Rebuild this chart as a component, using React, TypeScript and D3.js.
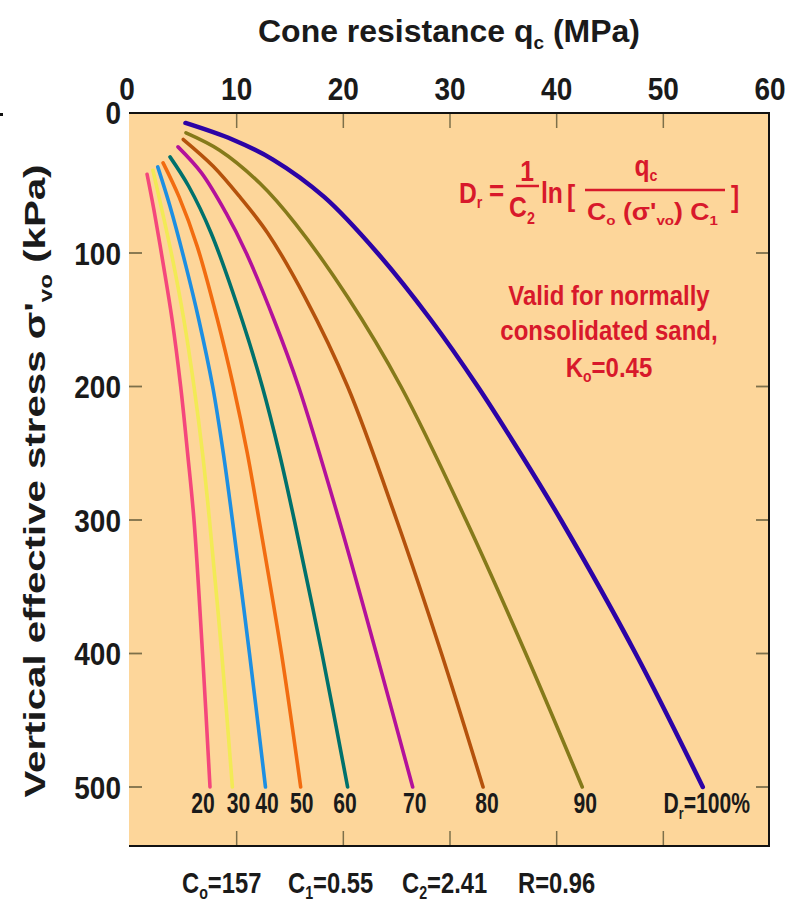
import React from "react";
import * as d3 from "d3";

// relative density of each curve (%)
const densities = [20, 30, 40, 50, 60, 70, 80, 90, 100];

// [sigma'vo (kPa), qc (MPa)], one list per curve
const dr20 = [[41, 1.6], [68, 2.25], [110, 3.15], [150, 3.95], [200, 4.75], [250, 5.4], [300, 6.0], [400, 6.8], [500, 7.5]];
const dr30 = [[38, 2.15], [68, 3.0], [105, 4.0], [150, 5.05], [200, 6.0], [250, 6.8], [300, 7.45], [400, 8.6], [500, 9.6]];
const dr40 = [[35.5, 2.6], [65, 3.75], [110, 5.25], [150, 6.45], [200, 7.75], [250, 8.75], [300, 9.6], [400, 11.2], [500, 12.7]];
const dr50 = [[32.5, 3.1], [58, 4.6], [95, 6.3], [150, 8.2], [200, 9.7], [250, 11.0], [300, 12.1], [400, 14.2], [500, 16.0]];
const dr60 = [[28, 3.75], [50, 5.5], [85, 7.6], [150, 10.5], [200, 12.4], [250, 14.0], [300, 15.4], [400, 18.0], [500, 20.4]];
const dr70 = [[20.5, 4.5], [40, 6.7], [70, 9.0], [100, 10.9], [150, 13.5], [200, 15.8], [300, 19.6], [400, 23.1], [500, 26.5]];
const dr80 = [[15, 5.0], [35, 7.8], [58, 10.3], [85, 12.9], [133, 16.4], [200, 20.4], [300, 25.0], [400, 29.2], [500, 33.1]];
const dr90 = [[10, 5.25], [23, 8.4], [48, 12.2], [78, 15.5], [133, 20.4], [200, 25.4], [300, 31.5], [400, 37.1], [500, 42.4]];
const dr100 = [[2.6, 5.2], [15, 9.6], [30, 13.4], [58, 18.2], [100, 23.2], [150, 28.2], [200, 32.6], [250, 36.6], [300, 40.4], [400, 47.4], [500, 53.7]];

const curves = [dr20, dr30, dr40, dr50, dr60, dr70, dr80, dr90, dr100];
const colors = ["#f4477c", "#f2ea55", "#1d8fe2", "#f26c10", "#00716c", "#b3119b", "#b5520c", "#857a1a", "#2c03a6"];

const xTicks = [0, 10, 20, 30, 40, 50, 60];
const yTicks = [0, 100, 200, 300, 400, 500];
const constants = [["C", "o", "=157"], ["C", "1", "=0.55"], ["C", "2", "=2.41"], ["R", "", "=0.96"]];

const W = 794;
const H = 902;
const frame = { left: 129, right: 769, top: 113, bottom: 846 };
const xScale = d3.scaleLinear().domain([0, 60]).range([130, 770]);
const yScale = d3.scaleLinear().domain([0, 500]).range([119.5, 787]);

const FONT = "'Liberation Sans', Arial, Helvetica, sans-serif";
const RED = "#d8192b";
const INK = "#1a1a1a";

// small layout nudges for the curve labels
const labelNudge = [-7, 6, 1.5, 1, -2.5, 2, 4, 3, 4];
const constX = [182, 288, 402, 518];

// lowered, smaller run of text (subscript)
const Sub = ({ t, size, shift = 6 }) => (
  <tspan baselineShift={-shift} fontSize={size}>
    {t}
  </tspan>
);

export default function App() {
  const line = d3
    .line<number[]>()
    .x((d) => xScale(d[1]))
    .y((d) => yScale(d[0]))
    .curve(d3.curveCatmullRom.alpha(0.5));

  const tx = (x, y, sx = 1, sy = 1.15) => `translate(${x},${y}) scale(${sx},${sy})`;

  return (
    <svg
      width={W}
      height={H}
      style={{ position: "absolute", left: 0, top: 0, background: "#fff" }}
      fontFamily={FONT}
      fontWeight="bold"
    >
      {/* plot area */}
      <rect x={frame.left} y={frame.top} width={frame.right - frame.left} height={frame.bottom - frame.top} fill="#fdd69a" />

      {/* ticks, drawn inward */}
      {xTicks.slice(1, -1).map((t) => (
        <g key={"xt" + t} stroke="#7d704a" strokeWidth={1.5}>
          <line x1={xScale(t)} x2={xScale(t)} y1={frame.top} y2={frame.top + 15} />
          <line x1={xScale(t)} x2={xScale(t)} y1={frame.bottom} y2={frame.bottom - 15} />
        </g>
      ))}
      {yTicks.slice(1).map((t) => (
        <g key={"yt" + t} stroke="#7d704a" strokeWidth={1.8}>
          <line x1={frame.left} x2={frame.left + 13} y1={yScale(t)} y2={yScale(t)} />
          <line x1={frame.right} x2={frame.right - 13} y1={yScale(t)} y2={yScale(t)} />
        </g>
      ))}

      {/* frame: top, right, bottom */}
      <path
        d={`M${frame.left},${frame.top}H${frame.right}V${frame.bottom}H${frame.left}`}
        fill="none"
        stroke="#111"
        strokeWidth={2}
      />

      {/* curves */}
      {curves.map((c, i) => (
        <path
          key={"c" + i}
          d={line(c)}
          fill="none"
          stroke={colors[i]}
          strokeWidth={i === 8 ? 4.5 : 3.6}
          strokeLinecap="round"
        />
      ))}

      {/* curve labels */}
      {curves.map((c, i) => {
        const last = c[c.length - 1];
        const x = xScale(last[1]) + labelNudge[i];
        return (
          <text key={"l" + i} transform={tx(x, 813, 0.88, 1.2)} textAnchor="middle" fontSize={24} fill={INK}>
            {i === 8 ? (
              <>
                D<Sub t="r" size={14} shift={5} />=100%
              </>
            ) : (
              densities[i]
            )}
          </text>
        );
      })}

      {/* top axis labels */}
      {xTicks.map((t) => (
        <text key={"xl" + t} transform={tx(xScale(t) + (t === 0 ? -3 : 0), 100)} textAnchor="middle" fontSize={28} fill={INK}>
          {t}
        </text>
      ))}
      {/* left axis labels */}
      {yTicks.map((t) => (
        <text key={"yl" + t} transform={tx(121, yScale(t) + (t === 0 ? 4 : 11.5))} textAnchor="end" fontSize={28} fill={INK}>
          {t}
        </text>
      ))}

      {/* axis titles */}
      <text x={449} y={42} textAnchor="middle" fontSize={32} fill={INK} textLength={382} lengthAdjust="spacingAndGlyphs">
        Cone resistance q<Sub t="c" size={19} shift={7} /> (MPa)
      </text>
      <text
        transform="translate(45,481) rotate(-90)"
        textAnchor="middle"
        fontSize={30}
        fill={INK}
        textLength={633}
        lengthAdjust="spacingAndGlyphs"
      >
        Vertical effective stress σ'<Sub t="vo" size={18} shift={7} /> (kPa)
      </text>

      {/* formula */}
      <g fill={RED} fontSize={26}>
        <text transform={tx(459, 203, 0.95, 1.15)}>
          D<Sub t="r" size={15} shift={5} />
        </text>
        <text transform={tx(489, 201, 1, 1.1)}>=</text>
        <text transform={tx(527, 181, 0.95, 1.15)} textAnchor="middle">1</text>
        <line x1={516} x2={539} y1={186} y2={186} stroke={RED} strokeWidth={2.5} />
        <text transform={tx(522, 217, 0.95, 1.15)} textAnchor="middle">
          C<Sub t="2" size={15} shift={6} />
        </text>
        <text transform={tx(541, 203, 0.95, 1.15)}>ln</text>
        <text transform={tx(567, 206, 0.95, 1.15)}>[</text>
        <text transform={tx(646, 176, 0.95, 1.15)} textAnchor="middle">
          q<Sub t="c" size={15} shift={5} />
        </text>
        <line x1={585} x2={725} y1={190} y2={190} stroke={RED} strokeWidth={2.5} />
        <text x={587} y={220} fontSize={23} textLength={131} lengthAdjust="spacingAndGlyphs">
          C<Sub t="o" size={13} shift={5} /> (σ'<Sub t="vo" size={13} shift={5} />) C<Sub t="1" size={13} shift={5} />
        </text>
        <text transform={tx(731, 207, 0.95, 1.15)}>]</text>
      </g>

      {/* note */}
      <g fill={RED} fontSize={24} textAnchor="middle">
        <text transform={tx(609, 305)}>Valid for normally</text>
        <text transform={tx(609, 340)}>consolidated sand,</text>
        <text transform={tx(609, 377)}>
          K<Sub t="o" size={14} shift={5} />=0.45
        </text>
      </g>

      {/* fit constants */}
      {constants.map((c, i) => (
        <text key={"k" + i} transform={tx(constX[i], 893, 0.95, 1.2)} fontSize={25} fill={INK}>
          {c[0]}
          {c[1] ? <Sub t={c[1]} size={15} shift={5} /> : null}
          {c[2]}
        </text>
      ))}

      {/* stray scan mark */}
      <rect x={0} y={113} width={3} height={3} fill="#111" />
    </svg>
  );
}
